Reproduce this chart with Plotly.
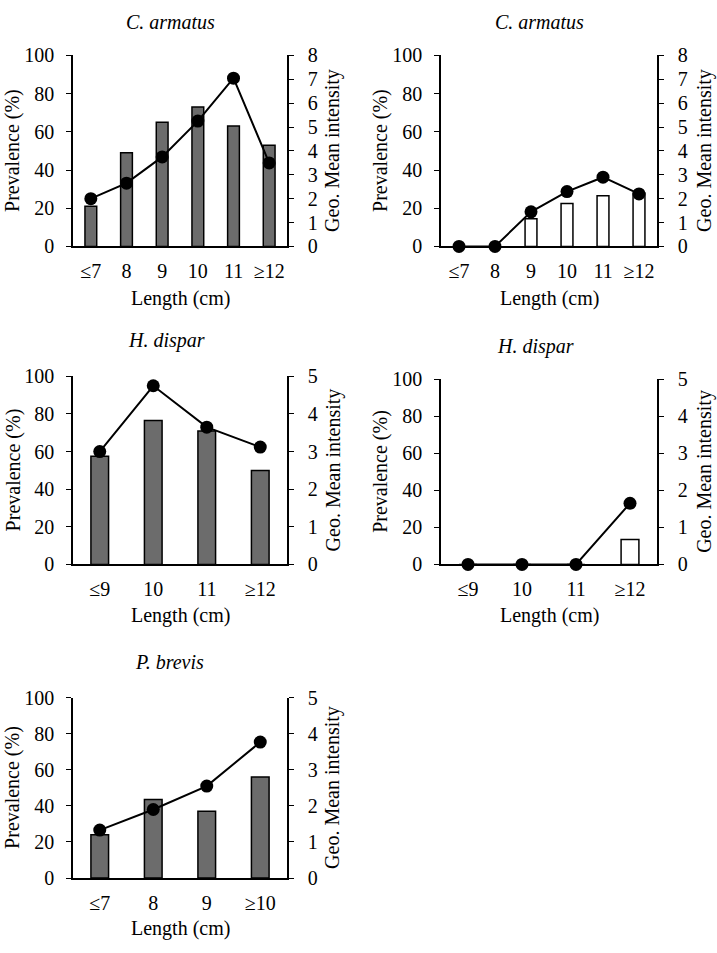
import plotly.graph_objects as go

# ---------------- data ----------------
cats_ca = ["≤7", "8", "9", "10", "11", "≥12"]
cats_hd = ["≤9", "10", "11", "≥12"]
cats_pb = ["≤7", "8", "9", "≥10"]

ca_left_prev = [21, 49, 65, 73, 63, 53]
ca_left_gmi = [2.0, 2.65, 3.75, 5.25, 7.05, 3.5]

ca_right_prev = [0, 0, 14.5, 22.5, 26.5, 28]
ca_right_gmi = [0, 0, 1.45, 2.3, 2.9, 2.2]

hd_left_prev = [57.5, 76.5, 71, 50]
hd_left_gmi = [3.0, 4.75, 3.65, 3.12]

hd_right_prev = [0, 0, 0, 13.5]
hd_right_gmi = [0, 0, 0, 1.65]

pb_prev = [24, 43.5, 37, 56]
pb_gmi = [1.33, 1.9, 2.55, 3.77]

titles = ["C. armatus", "C. armatus", "H. dispar", "H. dispar", "P. brevis"]

# ---------------- layout geometry (pixels) ----------------
W, H = 717, 953
FONT = "Liberation Serif"

panels = [
    dict(cats=cats_ca, prev=ca_left_prev, gmi=ca_left_gmi, gmax=8, fill="#6c6c6c",
         x0=73, x1=287, y0=45.5, y1=241, title_xy=(170, 11), xt_y=294, yl_x=13, yr_x=333),
    dict(cats=cats_ca, prev=ca_right_prev, gmi=ca_right_gmi, gmax=8, fill="white",
         x0=441, x1=657, y0=45.5, y1=241, title_xy=(539, 11), xt_y=294, yl_x=381, yr_x=705),
    dict(cats=cats_hd, prev=hd_left_prev, gmi=hd_left_gmi, gmax=5, fill="#6c6c6c",
         x0=73, x1=287, y0=374, y1=566.5, title_xy=(166, 337), xt_y=619, yl_x=13, yr_x=333),
    dict(cats=cats_hd, prev=hd_right_prev, gmi=hd_right_gmi, gmax=5, fill="white",
         x0=441, x1=657, y0=377, y1=566.5, title_xy=(535, 343), xt_y=619, yl_x=381, yr_x=705),
    dict(cats=cats_pb, prev=pb_prev, gmi=pb_gmi, gmax=5, fill="#6c6c6c",
         x0=73, x1=287, y0=703, y1=887.5, title_xy=(169, 666), xt_y=939, yl_x=13, yr_x=333),
]


def px_x(x):
    return x / W


def px_y(y):
    return 1 - y / H


fig = go.Figure()
layout = dict(
    width=W, height=H,
    margin=dict(l=0, r=0, t=0, b=0),
    paper_bgcolor="white", plot_bgcolor="white",
    showlegend=False,
    font=dict(family=FONT, size=20, color="black"),
    annotations=[],
)

for i, p in enumerate(panels):
    k = i + 1
    xa = "x" if k == 1 else f"x{k}"
    yl_idx = 2 * i + 1
    yr_idx = 2 * i + 2
    yl = "y" if yl_idx == 1 else f"y{yl_idx}"
    yr = f"y{yr_idx}"
    n = len(p["cats"])

    fig.add_trace(go.Bar(
        x=p["cats"], y=p["prev"], xaxis=xa, yaxis=yl,
        width=0.33,
        marker=dict(color=p["fill"], line=dict(color="black", width=1.5)),
        hoverinfo="skip",
    ))
    fig.add_trace(go.Scatter(
        x=p["cats"], y=p["gmi"], xaxis=xa, yaxis=yr,
        mode="lines+markers",
        line=dict(color="black", width=2),
        marker=dict(color="black", size=13),
        cliponaxis=False,
        hoverinfo="skip",
    ))

    xdom = [px_x(p["x0"]), px_x(p["x1"])]
    ydom = [px_y(p["y1"]), px_y(p["y0"])]

    layout["xaxis" if k == 1 else f"xaxis{k}"] = dict(
        domain=xdom, anchor=yl, type="category",
        range=[-0.5, n - 0.5],
        showline=True, linecolor="black", linewidth=1.5,
        ticks="", showgrid=False, zeroline=False,
        tickfont=dict(family=FONT, size=20, color="black"),
        ticklabelstandoff=6,
        fixedrange=True,
    )
    layout["yaxis" if yl_idx == 1 else f"yaxis{yl_idx}"] = dict(
        domain=ydom, anchor=xa, range=[0, 100], dtick=20, tick0=0,
        showline=True, linecolor="black", linewidth=1.5,
        ticks="outside", ticklen=5, tickwidth=1.2, tickcolor="black",
        showgrid=False, zeroline=False,
        tickfont=dict(family=FONT, size=20, color="black"),
        ticklabelstandoff=8,
        fixedrange=True,
    )
    layout[f"yaxis{yr_idx}"] = dict(
        domain=ydom, anchor=xa, overlaying=yl, side="right",
        range=[0, p["gmax"]], dtick=1, tick0=0,
        showline=True, linecolor="black", linewidth=1.5,
        ticks="outside", ticklen=5, tickwidth=1.2, tickcolor="black",
        showgrid=False, zeroline=False,
        tickfont=dict(family=FONT, size=20, color="black"),
        ticklabelstandoff=10,
        fixedrange=True,
    )

    yc = (p["y0"] + p["y1"]) / 2
    layout["annotations"] += [
        dict(text=f"<i>{titles[i]}</i>", xref="paper", yref="paper",
             x=px_x(p["title_xy"][0]), y=px_y(p["title_xy"][1]),
             xanchor="center", yanchor="middle", showarrow=False,
             font=dict(family=FONT, size=20, color="black")),
        dict(text="Length (cm)", xref="paper", yref="paper",
             x=px_x((p["x0"] + p["x1"]) / 2), y=px_y(p["xt_y"]),
             xanchor="center", yanchor="middle", showarrow=False,
             font=dict(family=FONT, size=20, color="black")),
        dict(text="Prevalence (%)", xref="paper", yref="paper",
             x=px_x(p["yl_x"]), y=px_y(yc), textangle=-90,
             xanchor="center", yanchor="middle", showarrow=False,
             font=dict(family=FONT, size=20, color="black")),
        dict(text="Geo. Mean intensity", xref="paper", yref="paper",
             x=px_x(p["yr_x"]), y=px_y(yc), textangle=-90,
             xanchor="center", yanchor="middle", showarrow=False,
             font=dict(family=FONT, size=20, color="black")),
    ]

fig.update_layout(**layout)
fig.write_html(
    "out.html",
    config={"displayModeBar": False},
    post_script="document.body.style.margin='0';document.body.style.padding='0';",
)
